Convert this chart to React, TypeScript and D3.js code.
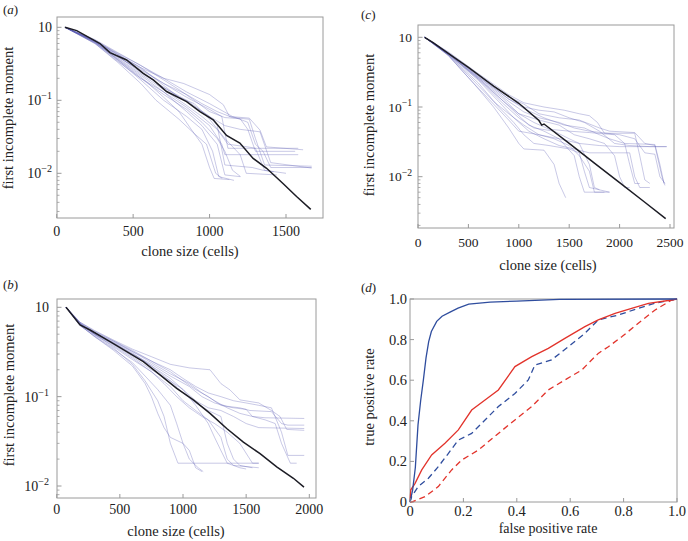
import React from 'react';
import * as d3 from 'd3';

type Pt = [number, number];

// ---------- Panel (a) data ----------
const aTicksX = [0, 500, 1000, 1500];
const aMean: Pt[] = [[54,1],[131,0.9],[283,0.6],[348,0.45],[457,0.357],[566,0.234],[632,0.19],[719,0.132],[850,0.096],[937,0.07],[1024,0.054],[1111,0.033],[1198,0.026],[1285,0.016],[1373,0.0117],[1482,0.0072],[1569,0.0048],[1662,0.0032]];
const aSims: Pt[][] = [
  [[54,1],[250,0.68],[400,0.45],[550,0.3],[700,0.2],[830,0.17],[1000,0.12],[1090,0.087],[1130,0.06],[1260,0.057],[1330,0.039],[1372,0.023],[1612,0.021]],
  [[54,1],[250,0.66],[400,0.42],[550,0.27],[700,0.17],[850,0.12],[950,0.09],[1050,0.07],[1150,0.058],[1260,0.055],[1300,0.03],[1360,0.013],[1668,0.0125]],
  [[54,1],[250,0.65],[400,0.4],[550,0.25],[700,0.15],[850,0.1],[1000,0.06],[1100,0.045],[1200,0.04],[1330,0.037],[1400,0.014],[1668,0.0118]],
  [[54,1],[250,0.63],[400,0.38],[550,0.23],[700,0.14],[850,0.085],[950,0.06],[1050,0.04],[1120,0.025],[1250,0.023],[1300,0.022],[1360,0.011],[1500,0.01]],
  [[54,1],[250,0.64],[400,0.36],[550,0.2],[700,0.12],[850,0.075],[950,0.05],[1050,0.03],[1100,0.02],[1150,0.011],[1203,0.009]],
  [[54,1],[250,0.62],[400,0.35],[550,0.19],[700,0.1],[850,0.06],[950,0.04],[1020,0.02],[1060,0.009],[1160,0.008]],
  [[54,1],[250,0.6],[400,0.33],[550,0.17],[650,0.1],[800,0.055],[900,0.035],[980,0.025],[1040,0.01],[1083,0.0085]],
  [[54,1],[250,0.65],[400,0.42],[550,0.28],[700,0.16],[800,0.11],[900,0.09],[1000,0.055],[1100,0.03],[1200,0.018],[1240,0.01],[1440,0.0095]],
  [[54,1],[250,0.66],[400,0.44],[550,0.3],[700,0.19],[800,0.14],[900,0.1],[1000,0.07],[1100,0.058],[1200,0.056],[1250,0.04],[1300,0.02],[1560,0.02]],
  [[54,1],[250,0.63],[400,0.39],[550,0.26],[700,0.17],[850,0.11],[1000,0.075],[1080,0.06],[1120,0.022],[1580,0.022]],
  [[54,1],[250,0.62],[400,0.37],[550,0.22],[700,0.13],[850,0.08],[1000,0.045],[1080,0.025],[1100,0.018],[1580,0.018]],
  [[54,1],[250,0.64],[400,0.4],[550,0.24],[700,0.15],[850,0.095],[1000,0.06],[1050,0.045],[1100,0.013],[1280,0.012],[1350,0.011],[1420,0.0105]],
  [[54,1],[250,0.6],[400,0.34],[550,0.2],[700,0.13],[850,0.07],[950,0.045],[1050,0.025],[1100,0.0095],[1200,0.009]],
  [[54,1],[250,0.66],[400,0.43],[550,0.28],[700,0.2],[850,0.13],[1000,0.09],[1150,0.06],[1250,0.05],[1300,0.025],[1350,0.02],[1400,0.012],[1668,0.012]],
  [[54,1],[250,0.61],[400,0.36],[550,0.21],[700,0.11],[800,0.07],[880,0.04],[950,0.025],[1000,0.012],[1030,0.0085],[1130,0.0082]],
];

// ---------- Panel (b) data ----------
const bTicksX = [0, 500, 1000, 1500, 2000];
const bMean: Pt[] = [[74,1],[185,0.634],[264,0.557],[422,0.413],[554,0.319],[686,0.247],[818,0.175],[950,0.124],[1082,0.092],[1214,0.065],[1346,0.044],[1478,0.031],[1610,0.023],[1742,0.0164],[1874,0.0122],[1958,0.0097]];
const bSims: Pt[][] = [
  [[74,1],[185,0.68],[300,0.55],[450,0.43],[600,0.34],[750,0.28],[900,0.23],[1050,0.21],[1214,0.2],[1300,0.14],[1372,0.119],[1451,0.092],[1600,0.085],[1700,0.07],[1768,0.06],[1821,0.043],[1960,0.042]],
  [[74,1],[185,0.68],[300,0.54],[450,0.42],[600,0.33],[750,0.25],[900,0.19],[1000,0.15],[1100,0.12],[1200,0.1],[1300,0.08],[1400,0.075],[1500,0.072],[1550,0.06],[1650,0.058],[1960,0.057]],
  [[74,1],[185,0.66],[300,0.52],[450,0.4],[600,0.3],[750,0.23],[900,0.17],[1050,0.13],[1150,0.1],[1250,0.085],[1350,0.078],[1450,0.075],[1530,0.07],[1700,0.068],[1780,0.05],[1830,0.048],[1960,0.048]],
  [[74,1],[185,0.66],[300,0.5],[450,0.38],[600,0.28],[750,0.2],[900,0.15],[1000,0.12],[1100,0.09],[1200,0.075],[1300,0.07],[1400,0.06],[1500,0.05],[1600,0.045],[1960,0.044]],
  [[74,1],[185,0.64],[300,0.49],[450,0.37],[600,0.27],[750,0.19],[850,0.14],[950,0.1],[1050,0.075],[1150,0.06],[1250,0.05],[1350,0.04],[1450,0.03],[1550,0.018],[1600,0.018]],
  [[74,1],[185,0.62],[300,0.48],[450,0.35],[600,0.23],[700,0.15],[800,0.09],[850,0.06],[900,0.03],[960,0.018],[1600,0.018]],
  [[74,1],[185,0.63],[300,0.47],[450,0.33],[600,0.22],[700,0.14],[750,0.1],[800,0.065],[850,0.045],[900,0.035],[1000,0.03],[1050,0.025],[1100,0.016],[1150,0.0145]],
  [[74,1],[185,0.64],[300,0.5],[450,0.39],[600,0.3],[750,0.22],[900,0.16],[1000,0.12],[1100,0.08],[1200,0.05],[1250,0.035],[1300,0.025],[1350,0.018],[1450,0.016],[1500,0.0155]],
  [[74,1],[185,0.67],[300,0.53],[450,0.42],[600,0.32],[750,0.25],[900,0.2],[1000,0.16],[1100,0.13],[1200,0.11],[1300,0.1],[1400,0.09],[1500,0.085],[1600,0.08],[1700,0.075],[1780,0.04],[1830,0.022],[1960,0.022]],
  [[74,1],[185,0.65],[300,0.51],[450,0.4],[600,0.31],[750,0.22],[900,0.15],[1000,0.11],[1100,0.085],[1200,0.07],[1300,0.06],[1350,0.03],[1400,0.02],[1450,0.017],[1550,0.016]],
  [[74,1],[185,0.66],[300,0.52],[450,0.41],[600,0.32],[750,0.24],[900,0.18],[1050,0.14],[1150,0.11],[1250,0.09],[1350,0.075],[1450,0.065],[1550,0.06],[1650,0.055],[1730,0.05],[1780,0.03],[1850,0.018],[1900,0.018]],
  [[74,1],[185,0.63],[300,0.47],[450,0.34],[600,0.24],[700,0.17],[800,0.12],[900,0.08],[950,0.05],[1000,0.03],[1050,0.02],[1120,0.016],[1160,0.0145]],
  [[74,1],[185,0.65],[300,0.5],[450,0.36],[600,0.26],[750,0.19],[900,0.13],[1000,0.09],[1100,0.07],[1200,0.055],[1300,0.035],[1350,0.02],[1400,0.017],[1600,0.016]],
];

// ---------- Panel (c) data ----------
const cTicksX = [0, 500, 1000, 1500, 2000, 2500];
const cMean: Pt[] = [[66,1],[150,0.84],[300,0.59],[500,0.37],[750,0.2],[1000,0.113],[1200,0.064],[1227,0.055],[1250,0.057],[1500,0.03],[1750,0.0157],[2000,0.0082],[2250,0.0043],[2457,0.0025]];
const cSims: Pt[][] = [
  [[66,1],[300,0.62],[600,0.3],[900,0.15],[1050,0.115],[1250,0.1],[1450,0.09],[1600,0.08],[1700,0.075],[1780,0.06],[1850,0.042],[2150,0.042],[2200,0.02],[2250,0.009],[2300,0.008]],
  [[66,1],[300,0.6],[600,0.28],[900,0.13],[1050,0.1],[1200,0.09],[1350,0.085],[1500,0.07],[1650,0.06],[1800,0.045],[1950,0.03],[2100,0.028],[2300,0.027],[2467,0.027]],
  [[66,1],[300,0.6],[600,0.27],[900,0.12],[1050,0.085],[1200,0.07],[1400,0.06],[1550,0.05],[1700,0.045],[2000,0.04],[2150,0.035],[2250,0.022],[2350,0.021],[2400,0.01],[2450,0.008]],
  [[66,1],[300,0.58],[600,0.26],[850,0.13],[1000,0.08],[1150,0.06],[1300,0.048],[1500,0.045],[1700,0.043],[1950,0.04],[2050,0.03],[2350,0.029],[2400,0.015],[2440,0.008]],
  [[66,1],[300,0.59],[600,0.25],[850,0.12],[1000,0.075],[1100,0.055],[1250,0.045],[1400,0.035],[1600,0.03],[1800,0.028],[2000,0.027],[2467,0.027]],
  [[66,1],[300,0.57],[600,0.24],[800,0.12],[950,0.07],[1100,0.045],[1250,0.035],[1400,0.028],[1550,0.025],[1700,0.022],[2100,0.022],[2150,0.01],[2200,0.007],[2300,0.007]],
  [[66,1],[300,0.56],[600,0.22],[800,0.1],[950,0.06],[1050,0.04],[1150,0.03],[1300,0.028],[1500,0.025],[1600,0.022],[1650,0.012],[1700,0.007],[1900,0.006]],
  [[66,1],[300,0.55],[550,0.22],[750,0.1],[900,0.05],[1000,0.03],[1050,0.025],[1250,0.024],[1350,0.015],[1400,0.008],[1465,0.005]],
  [[66,1],[300,0.55],[550,0.22],[750,0.11],[900,0.065],[1000,0.045],[1200,0.04],[1400,0.035],[1550,0.02],[1600,0.01],[1650,0.006],[1900,0.006]],
  [[66,1],[300,0.57],[600,0.25],[850,0.11],[1000,0.07],[1150,0.05],[1350,0.045],[1500,0.035],[1600,0.03],[1700,0.015],[1750,0.007],[1800,0.0065]],
  [[66,1],[300,0.6],[600,0.29],[900,0.14],[1050,0.11],[1200,0.08],[1400,0.07],[1600,0.065],[1800,0.05],[1900,0.045],[2150,0.043],[2250,0.03],[2350,0.028],[2420,0.01],[2450,0.0075]],
  [[66,1],[300,0.58],[600,0.26],[850,0.12],[1000,0.08],[1200,0.065],[1400,0.055],[1550,0.04],[1700,0.035],[1850,0.03],[1950,0.02],[2000,0.01],[2050,0.007],[2100,0.007]],
  [[66,1],[300,0.56],[550,0.24],[750,0.12],[900,0.08],[1050,0.055],[1200,0.04],[1350,0.035],[1500,0.028],[1600,0.02],[1700,0.012],[1750,0.006],[1850,0.006]],
  [[66,1],[300,0.59],[600,0.27],[900,0.13],[1050,0.095],[1250,0.07],[1450,0.055],[1650,0.05],[1800,0.04],[1900,0.035],[2050,0.03],[2100,0.015],[2150,0.008],[2200,0.008]],
];

// ---------- Panel (d) data (ROC curves) ----------
const dTicks = [0, 0.2, 0.4, 0.6, 0.8, 1.0];
const dTickLabels = ['0', '0.2', '0.4', '0.6', '0.8', '1.0'];
const rocBlueSolid: Pt[] = [[0,0],[0.01,0.06],[0.02,0.17],[0.03,0.38],[0.04,0.5],[0.05,0.6],[0.06,0.71],[0.07,0.79],[0.08,0.84],[0.1,0.89],[0.12,0.915],[0.15,0.935],[0.18,0.955],[0.22,0.975],[0.3,0.985],[0.4,0.99],[0.56,0.998],[1,1]];
const rocRedSolid: Pt[] = [[0,0],[0.003,0.06],[0.019,0.092],[0.044,0.158],[0.081,0.232],[0.131,0.289],[0.181,0.355],[0.231,0.453],[0.281,0.502],[0.331,0.552],[0.393,0.667],[0.456,0.716],[0.518,0.757],[0.58,0.806],[0.655,0.864],[0.705,0.897],[0.768,0.929],[0.83,0.954],[0.893,0.979],[0.98,0.995],[1,1]];
const rocBlueDashed: Pt[] = [[0,0],[0.006,0.026],[0.031,0.076],[0.069,0.117],[0.106,0.174],[0.144,0.24],[0.181,0.305],[0.231,0.338],[0.281,0.404],[0.331,0.47],[0.393,0.535],[0.443,0.601],[0.468,0.675],[0.53,0.7],[0.593,0.765],[0.655,0.831],[0.705,0.897],[0.78,0.921],[0.855,0.954],[0.918,0.979],[0.98,0.995],[1,1]];
const rocRedDashed: Pt[] = [[0,0],[0.006,0],[0.056,0.026],[0.106,0.076],[0.156,0.158],[0.194,0.207],[0.256,0.256],[0.331,0.338],[0.393,0.404],[0.456,0.47],[0.518,0.552],[0.58,0.601],[0.643,0.65],[0.705,0.732],[0.743,0.765],[0.793,0.814],[0.855,0.88],[0.918,0.946],[0.98,0.995],[1,1]];

const FONT = "'Liberation Serif', 'DejaVu Serif', serif";
const FRAME = '#9a9a9a';
const TXT = { fontFamily: FONT } as React.CSSProperties;

type Layout = {
  frame: [number, number, number, number];
  xRef: [number, number, number];
  yRef: [number, number];
  tag: string; tagPos: [number, number];
  xlab: [number, number]; ylab: [number, number];
  tickBase: number; yTickRight: number;
  tickFs: number; labFs: number;
};

function LogTick({ v, x, y, fs }: { v: number; x: number; y: number; fs: number }) {
  const e = Math.round(Math.log10(v));
  return (
    <text x={x} y={y} dy="0.35em" textAnchor="end" fontSize={fs} style={TXT} fill="#222">
      10{e !== 0 && <tspan dy={-fs * 0.42} fontSize={fs * 0.72}>{'\u2212' + Math.abs(e)}</tspan>}
    </text>
  );
}

function LogPanel({ L, mean, sims, xticks }: { L: Layout; mean: Pt[]; sims: Pt[][]; xticks: number[] }) {
  const [fx0, fy0, fx1, fy1] = L.frame;
  const x = d3.scaleLinear().domain([0, L.xRef[1]]).range([L.xRef[0], L.xRef[2]]);
  const y = d3.scaleLog().domain([1, 0.01]).range([L.yRef[0], L.yRef[1]]);
  const vTop = y.invert(fy0), vBot = y.invert(fy1);
  const minor = d3.scaleLog().domain([vBot, vTop]).ticks().filter(t => {
    const l = Math.log10(t);
    return Math.abs(l - Math.round(l)) > 1e-6;
  });
  const majors = [1, 0.1, 0.01].filter(t => t <= vTop && t >= vBot);
  const line = d3.line<Pt>().x(d => x(d[0])).y(d => y(d[1]));
  const id = 'clip' + L.tag;
  return (
    <g>
      <defs>
        <clipPath id={id}><rect x={fx0} y={fy0} width={fx1 - fx0} height={fy1 - fy0} /></clipPath>
      </defs>
      <g clipPath={`url(#${id})`}>
        {sims.map((s, i) => (
          <path key={i} d={line(s) || ''} fill="none" stroke="#5a5ab4" strokeOpacity={0.33} strokeWidth={1} />
        ))}
        <path d={line(mean) || ''} fill="none" stroke="#1c1c24" strokeWidth={1.5} />
      </g>
      <rect x={fx0} y={fy0} width={fx1 - fx0} height={fy1 - fy0} fill="none" stroke={FRAME} strokeWidth={1} />
      {minor.map((t, i) => (
        <line key={'m' + i} x1={fx0} x2={fx0 + 2.5} y1={y(t)} y2={y(t)} stroke={FRAME} strokeWidth={0.8} />
      ))}
      {majors.map((t, i) => (
        <g key={'M' + i}>
          <line x1={fx0} x2={fx0 + 4.5} y1={y(t)} y2={y(t)} stroke={FRAME} strokeWidth={1} />
          <LogTick v={t} x={L.yTickRight} y={y(t)} fs={L.tickFs} />
        </g>
      ))}
      {xticks.map((t, i) => (
        <g key={'x' + i}>
          <line x1={x(t)} x2={x(t)} y1={fy1} y2={fy1 - 4} stroke={FRAME} strokeWidth={1} />
          <text x={x(t)} y={L.tickBase} textAnchor="middle" fontSize={L.tickFs} style={TXT} fill="#222">{t}</text>
        </g>
      ))}
      <text x={L.xlab[0]} y={L.xlab[1]} textAnchor="middle" fontSize={L.labFs} style={TXT} fill="#222">clone size (cells)</text>
      <text transform={`translate(${L.ylab[0]},${L.ylab[1]}) rotate(-90)`} textAnchor="middle" fontSize={L.labFs} style={TXT} fill="#222">first incomplete moment</text>
      <text x={L.tagPos[0]} y={L.tagPos[1]} fontSize={13} style={TXT} fill="#222">(<tspan fontStyle="italic">{L.tag}</tspan>)</text>
    </g>
  );
}

const LA: Layout = { frame: [57, 17, 323, 218], xRef: [56.7, 1500, 286], yRef: [27.3, 173.3], tag: 'a', tagPos: [3, 14], xlab: [190, 256], ylab: [13, 118], tickBase: 236, yTickRight: 52, tickFs: 14, labFs: 14.5 };
const LB: Layout = { frame: [57, 299, 316, 498], xRef: [56.7, 2000, 309.3], yRef: [307.3, 486], tag: 'b', tagPos: [3, 289], xlab: [176, 536], ylab: [14, 395], tickBase: 514, yTickRight: 49, tickFs: 14, labFs: 14.5 };
const LC: Layout = { frame: [418, 25, 674, 228], xRef: [418, 2500, 670], yRef: [37.3, 176.7], tag: 'c', tagPos: [361, 19], xlab: [548, 270], ylab: [374, 125], tickBase: 247, yTickRight: 412, tickFs: 13.5, labFs: 14.5 };

function RocPanel() {
  const fx0 = 410, fy0 = 299, fx1 = 677, fy1 = 502;
  const x = d3.scaleLinear().domain([0, 1]).range([fx0, fx1]);
  const y = d3.scaleLinear().domain([0, 1]).range([fy1, fy0]);
  const line = d3.line<Pt>().x(d => x(d[0])).y(d => y(d[1]));
  const blue = '#2f4d9e', red = '#e2332b';
  return (
    <g>
      <rect x={fx0} y={fy0} width={fx1 - fx0} height={fy1 - fy0} fill="none" stroke={FRAME} strokeWidth={1} />
      <path d={line(rocRedDashed) || ''} fill="none" stroke={red} strokeWidth={1.3} strokeDasharray="6,4" />
      <path d={line(rocBlueDashed) || ''} fill="none" stroke={blue} strokeWidth={1.3} strokeDasharray="6,4" />
      <path d={line(rocRedSolid) || ''} fill="none" stroke={red} strokeWidth={1.3} />
      <path d={line(rocBlueSolid) || ''} fill="none" stroke={blue} strokeWidth={1.3} />
      {dTicks.map((t, i) => (
        <g key={i}>
          <line x1={fx0} x2={fx0 + 4} y1={y(t)} y2={y(t)} stroke={FRAME} />
          <line x1={x(t)} x2={x(t)} y1={fy1} y2={fy1 - 4} stroke={FRAME} />
          <text x={407} y={y(t)} dy="0.35em" textAnchor="end" fontSize={14.5} style={TXT} fill="#222">{dTickLabels[i]}</text>
          <text x={x(t)} y={516} textAnchor="middle" fontSize={14.5} style={TXT} fill="#222">{dTickLabels[i]}</text>
        </g>
      ))}
      <text x={548} y={533} textAnchor="middle" fontSize={14} style={TXT} fill="#222">false positive rate</text>
      <text transform="translate(374,397) rotate(-90)" textAnchor="middle" fontSize={14.5} style={TXT} fill="#222">true positive rate</text>
      <text x={361} y={292} fontSize={13} style={TXT} fill="#222">(<tspan fontStyle="italic">d</tspan>)</text>
    </g>
  );
}

export default function App() {
  return (
    <svg width={688} height={541} style={{ position: 'absolute', left: 0, top: 0, background: '#fff' }}>
      <rect width={688} height={541} fill="#fff" />
      <LogPanel L={LA} mean={aMean} sims={aSims} xticks={aTicksX} />
      <LogPanel L={LB} mean={bMean} sims={bSims} xticks={bTicksX} />
      <LogPanel L={LC} mean={cMean} sims={cSims} xticks={cTicksX} />
      <RocPanel />
    </svg>
  );
}
